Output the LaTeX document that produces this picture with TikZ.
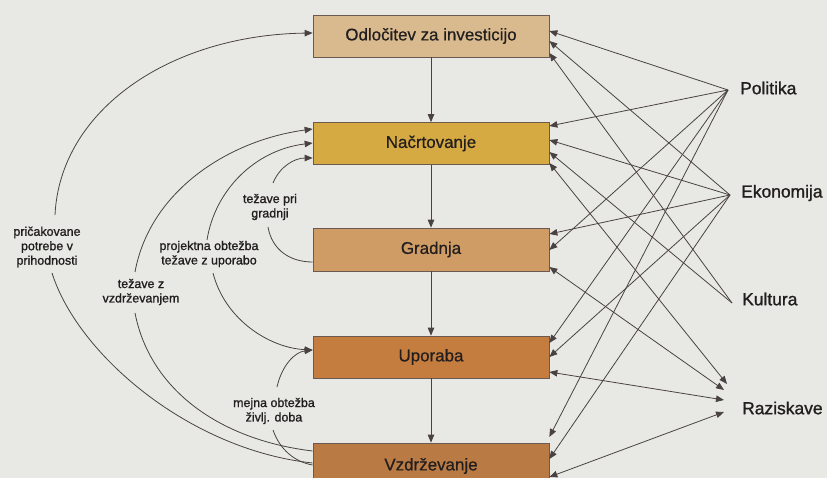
\documentclass[tikz,border=0pt]{standalone}
\usepackage{fontspec}
\setmainfont{Liberation Sans}
\newfontfamily\lblfont[FakeBold=1.2]{Liberation Sans}
\newfontfamily\boxfont[FakeBold=0.6]{Liberation Sans}
\usetikzlibrary{arrows.meta}
\definecolor{bg}{HTML}{E8E9E5}
\definecolor{txt}{HTML}{221E1E}
\definecolor{ln}{HTML}{4A4242}
\definecolor{bx}{HTML}{6A5A50}
\definecolor{cA}{HTML}{D9BA8E}
\definecolor{cB}{HTML}{D6AA42}
\definecolor{cC}{HTML}{D09C66}
\definecolor{cD}{HTML}{C47D3F}
\definecolor{cE}{HTML}{B97A44}
\tikzset{
  stagebox/.style={draw=bx, line width=0.7bp, minimum width=236bp, minimum height=42bp,
    inner sep=0pt, text=txt, font=\boxfont\fontsize{17}{20}\selectfont},
  lbl/.style={text=txt, align=center, inner sep=1pt, font=\lblfont\fontsize{12.5}{14.5}\selectfont},
  side/.style={text=txt, anchor=west, inner sep=0pt, font=\lblfont\fontsize{17.5}{20}\selectfont},
  con/.style={draw=ln, line width=0.8bp},
  tip/.style={-{Triangle[length=8bp,width=6.5bp]}},
  dtip/.style={{Triangle[length=8bp,width=6.5bp]}-{Triangle[length=8bp,width=6.5bp]}}
}
\begin{document}
\begin{tikzpicture}[x=1bp,y=-1bp]
\useasboundingbox (0,0) rectangle (827,478);
\clip (0,0) rectangle (827,478);
\fill[bg] (0,0) rectangle (827,478);

% stages
\node[stagebox, fill=cA] (b1) at (431,36) {Odločitev za investicijo};
\node[stagebox, fill=cB] (b2) at (431,143.5) {Načrtovanje};
\node[stagebox, fill=cC, minimum height=43bp] (b3) at (431,249.5) {Gradnja};
\node[stagebox, fill=cD] (b4) at (431,357) {Uporaba};
\node[stagebox, fill=cE, minimum height=46bp] (b5) at (431,466) {Vzdrževanje};

\draw[con,tip] (b1) -- (b2);
\draw[con,tip] (b2) -- (b3);
\draw[con,tip] (b3) -- (b4);
\draw[con,tip] (b4) -- (b5);

% right side labels
\coordinate (pol) at (728,90);
\coordinate (eko) at (730,195);
\coordinate (kul) at (732,303);
\node[side] (polT) at (740,88) {Politika};
\node[side] (ekoT) at (741,193) {Ekonomija};
\node[side] (kulT) at (742,299) {Kultura};
\node[side] (razT) at (742,408) {Raziskave};
\coordinate (r1) at (727,384);
\coordinate (r2) at (724,390);
\coordinate (r3) at (724,400);
\coordinate (r4) at (724,412);

% Politika
\draw[con,tip] (pol) -- (b1.east |- 0,31);
\draw[con,tip] (pol) -- (b2.east |- 0,126);
\draw[con,tip] (pol) -- (b3.east |- 0,250);
\draw[con,tip] (pol) -- (b4.east |- 0,343);
\draw[con,tip] (pol) -- (b5.east |- 0,437);
% Ekonomija
\draw[con,tip] (eko) -- (b1.east |- 0,41);
\draw[con,tip] (eko) -- (b2.east |- 0,140);
\draw[con,tip] (eko) -- (b3.east |- 0,234);
\draw[con,tip] (eko) -- (b4.east |- 0,357);
\draw[con,tip] (eko) -- (b5.east |- 0,459);
% Kultura
\draw[con,tip] (kul) -- (b1.east |- 0,53);
\draw[con,tip] (kul) -- (b2.east |- 0,152);
% Raziskave
\draw[con,dtip] (b2.east |- 0,163) -- (r1);
\draw[con,dtip] (b3.east |- 0,267) -- (r2);
\draw[con,dtip] (b4.east |- 0,372) -- (r3);
\draw[con,dtip] (b5.east |- 0,477) -- (r4);

% left labels
\node[lbl] (lp) at (47,247) {pričakovane\\potrebe v\\prihodnosti};
\node[lbl] (lv) at (141,292) {težave z\\vzdrževanjem};
\node[lbl] (lo) at (209,254) {projektna obtežba\\težave z uporabo};
\node[lbl] (lg) at (270,207) {težave pri\\gradnji};
\node[lbl] (lm) at (274,411) {mejna obtežba\\življ. doba};

\coordinate (sp1) at (55,215);
\coordinate (sp2) at (52,273);
\coordinate (sv1) at (135,272);
\coordinate (sv2) at (135,313);
\coordinate (so1) at (207,240);
\coordinate (so2) at (213,273);
\coordinate (sg1) at (273,183);
\coordinate (sg2) at (268,227);
\coordinate (sm1) at (277,387);
\coordinate (sm2) at (273,430);

\draw[con,tip] (sp1) .. controls (60,110) and (170,35) .. (b1.west |- 0,33);
\draw[con] (sp2) .. controls (78,355) and (190,450) .. (b5.west |- 0,463);
\draw[con,tip] (sv1) .. controls (150,190) and (230,140) .. (b2.west |- 0,129);
\draw[con] (sv2) .. controls (150,390) and (220,440) .. (b5.west |- 0,451);
\draw[con,tip] (so1) .. controls (215,190) and (255,150) .. (b2.west |- 0,143);
\draw[con,tip] (so2) .. controls (225,320) and (270,348) .. (b4.west |- 0,350);
\draw[con,tip] (sg1) .. controls (280,166) and (295,158) .. (b2.west |- 0,158);
\draw[con] (sg2) .. controls (272,250) and (290,262) .. (b3.west |- 0,262);
\draw[con,tip] (sm1) .. controls (282,365) and (295,352) .. (b4.west |- 0,350);
\draw[con] (sm2) .. controls (280,450) and (295,462) .. (b5.west |- 0,465);
\end{tikzpicture}
\end{document}
